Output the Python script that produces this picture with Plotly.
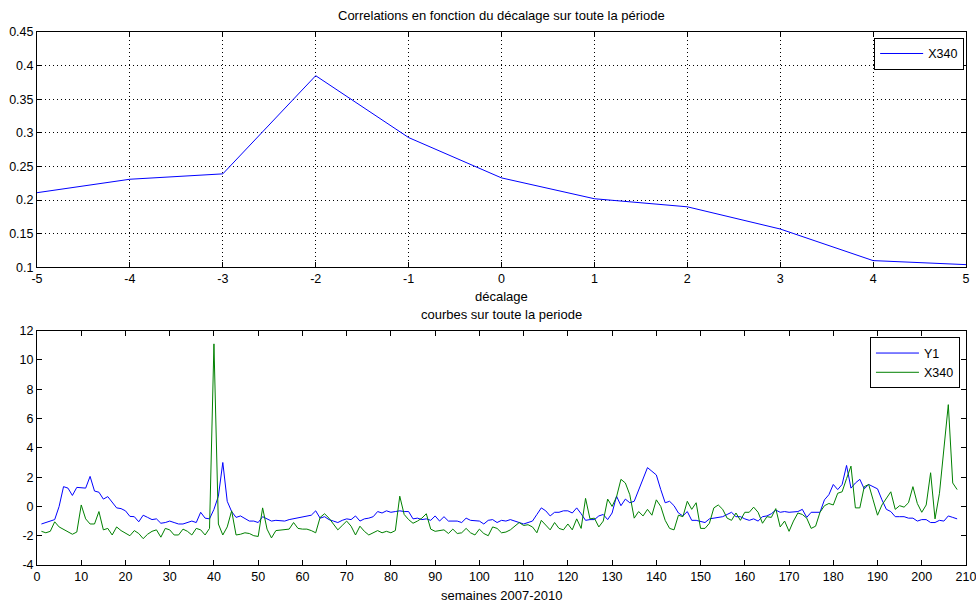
import plotly.graph_objects as go

# ---- data ----
lags = [-5, -4, -3, -2, -1, 0, 1, 2, 3, 4, 5]
corr_x340 = [0.211, 0.231, 0.239, 0.385, 0.293, 0.233, 0.202, 0.190, 0.157, 0.110, 0.104]

weeks = list(range(1, 209))
y1 = [
    -1.2, -1.1, -1.0, -0.9, 0.0, 1.35, 1.25, 0.75, 1.3, 1.3,
    1.25, 2.05, 1.05, 0.97, 0.5, 0.67, 0.27, -0.1, -0.15, -0.3,
    -0.68, -0.7, -1.05, -0.6, -0.75, -0.9, -0.85, -1.15, -1.1, -1.0,
    -1.1, -1.2, -1.2, -1.1, -1.0, -1.1, -0.4, -0.8, -0.85, -0.2,
    0.7, 3.0, 0.35, -0.35, -0.75, -0.65, -0.8, -1.0, -1.0, -1.1,
    -0.7, -0.85, -1.0, -0.95, -1.0, -1.0, -0.9, -0.85, -0.8, -0.7,
    -0.7, -0.6, -0.3, -0.8, -0.7, -0.9, -1.0, -1.1, -0.95, -0.85,
    -0.9, -0.65, -1.0, -0.85, -0.8, -0.7, -0.35, -0.45, -0.3, -0.4,
    -0.35, -0.3, -0.35, -0.35, -0.85, -0.8, -0.9, -0.85, -0.95, -0.65,
    -1.0, -0.7, -1.0, -1.0, -1.0, -1.1, -0.8, -0.95, -1.0, -1.0,
    -1.2, -0.95, -0.9, -1.1, -0.95, -1.0, -0.9, -1.0, -1.1, -1.2,
    -1.1, -1.0, -0.55, -0.1, -0.3, -0.65, -0.4, -0.4, -0.3, -0.3,
    -0.45, -0.1, -0.5, -0.95, -0.9, -0.9, -0.65, -0.55, -0.9, -0.45,
    0.7, 0.05, 0.5, 0.25, 0.35, 1.15, 1.95, 2.65, 2.4, 2.15,
    1.15, 0.25, 0.35, 0.05, -0.45, -0.65, -0.35, -0.95, -0.95, -1.0,
    -1.1, -0.85, -0.8, -0.7, -0.7, -0.55, -0.4, -0.7, -0.7, -0.85,
    -0.95, -0.85, -1.0, -0.7, -0.65, -0.5, -0.25, -0.4, -0.35, -0.4,
    -0.4, -0.35, -0.2, -0.75, -0.4, -0.4, -0.4, 0.45, 0.8, 1.5,
    1.15, 1.5, 2.8, 1.25, 1.6, 1.85, 1.2, 1.5, 1.35, 1.2,
    0.45, -0.2, -0.35, -0.7, -0.7, -0.7, -0.8, -0.8, -1.0, -0.9,
    -0.9, -1.1, -1.1, -0.95, -1.0, -0.65, -0.75, -0.85,
]
x340 = [
    -1.7, -1.8, -1.7, -1.05, -1.4, -1.55, -1.75, -1.9, -1.75, 0.1,
    -0.85, -1.2, -1.2, -0.35, -1.6, -1.5, -1.95, -1.4, -1.65, -1.85,
    -2.0, -1.65, -1.85, -2.2, -1.9, -1.7, -1.6, -2.1, -1.5, -1.6,
    -1.95, -1.95, -1.55, -1.7, -1.95, -1.5, -1.6, -1.95, -1.5, 11.1,
    -1.2, -1.95, -1.4, -0.3, -1.95, -1.9, -1.8, -1.85, -2.0, -2.05,
    -0.1, -1.55, -2.15, -1.65, -1.6, -1.6, -1.55, -1.1, -1.5, -1.55,
    -1.55, -1.65, -1.8, -0.75, -0.5, -0.8, -1.2, -1.6, -1.3, -1.0,
    -1.35, -1.95, -1.35, -1.7, -1.95, -1.8, -1.65, -1.8, -1.7, -1.8,
    -1.65, 0.7, -0.55, -0.9, -1.15, -1.0, -0.8, -0.5, -1.55, -1.7,
    -1.65, -1.6, -1.85, -1.55, -1.85, -1.8, -1.5, -1.8, -1.95, -1.55,
    -1.85, -2.0, -1.4, -1.5, -1.8, -1.75, -1.6, -1.35, -1.1, -1.3,
    -1.25, -1.4, -1.8, -0.95, -1.3, -1.6, -1.1, -1.5, -1.6, -1.2,
    -1.6, -0.85, -1.5, 0.55, -0.85, -0.8, -1.4, -1.0, 0.5, 0.0,
    0.65, 1.85, 1.6, 0.8, -0.8, -0.35, -0.65, -0.2, -0.6, 0.45,
    0.0, -0.95, -1.5, -1.6, -0.6, -0.7, 0.35, -0.2, 0.25, -1.5,
    -1.5, -1.15, -0.1, 0.1, -0.2, -0.8, -0.95, -0.45, -0.95, -0.4,
    -0.4, -0.05, -0.4, -1.15, -0.7, -0.75, -0.15, -1.4, -1.0, -1.7,
    -1.0, -0.45, -0.55, -0.8, -1.5, -1.35, -0.4, 0.05, 0.2, 0.1,
    0.9, 1.0, 1.9, 2.75, -0.1, -0.1, 1.35, 1.5, 0.45, -0.6,
    0.1, 0.55, 1.0, -0.2, 0.05, -0.05, 0.25, 1.35, 0.2, -0.4,
    0.1, 2.3, -0.85, 0.9, 3.85, 6.95, 1.6, 1.15,
]

top_xticks = [-5, -4, -3, -2, -1, 0, 1, 2, 3, 4, 5]
top_yticks = [0.1, 0.15, 0.2, 0.25, 0.3, 0.35, 0.4, 0.45]
bot_xticks = list(range(0, 211, 10))
bot_yticks = list(range(-4, 13, 2))

FONT = "Liberation Sans"
TICK_FS = 12.5
TXT_FS = 13
fig = go.Figure()

fig.add_trace(go.Scatter(x=lags, y=corr_x340, mode="lines", name="X340",
                         line=dict(color="#0000ff", width=1),
                         xaxis="x", yaxis="y", legend="legend"))
fig.add_trace(go.Scatter(x=weeks, y=y1, mode="lines", name="Y1",
                         line=dict(color="#0000ff", width=1),
                         xaxis="x2", yaxis="y2", legend="legend2"))
fig.add_trace(go.Scatter(x=weeks, y=x340, mode="lines", name="X340",
                         line=dict(color="#008000", width=1),
                         xaxis="x2", yaxis="y2", legend="legend2"))

axis_common = dict(showline=True, linecolor="black", linewidth=1, mirror="ticks",
                   ticks="inside", ticklen=5, tickcolor="black", zeroline=False,
                   automargin=False, ticklabeloverflow="allow",
                   tickfont=dict(family=FONT, size=TICK_FS, color="black"))
grid_style = dict(showgrid=True, gridcolor="black", griddash="1px,3px", gridwidth=1)
legend_style = dict(xanchor="right", yanchor="top", bgcolor="white",
                    bordercolor="black", borderwidth=1, itemwidth=43,
                    font=dict(family=FONT, size=TICK_FS, color="black"))

fig.update_layout(
    width=976, height=608,
    margin=dict(l=37, r=10, t=32, b=43, autoexpand=False),
    paper_bgcolor="white", plot_bgcolor="white",
    font=dict(family=FONT, size=TICK_FS, color="black"),
    xaxis=dict(domain=[0, 1], anchor="y", range=[-5, 5],
               tickvals=top_xticks, ticktext=[str(v) for v in top_xticks],
               **grid_style, **axis_common),
    yaxis=dict(domain=[0.5585, 1], anchor="x", range=[0.1, 0.45],
               tickvals=top_yticks, ticktext=[("%g" % v) for v in top_yticks],
               **grid_style, **axis_common),
    xaxis2=dict(domain=[0, 1], anchor="y2", range=[0, 210],
                tickvals=bot_xticks, ticktext=[str(v) for v in bot_xticks],
                showgrid=False, **axis_common),
    yaxis2=dict(domain=[0, 0.4396], anchor="x2", range=[-4, 12],
                tickvals=bot_yticks, ticktext=[str(v) for v in bot_yticks],
                showgrid=False, **axis_common),
    legend=dict(x=0.998, y=0.989, **legend_style),
    legend2=dict(x=0.9935, y=0.427, **legend_style),
    showlegend=True,
    annotations=[
        dict(text="Correlations en fonction du décalage sur toute la période",
             xref="paper", yref="paper", x=0.5, y=1.0306, xanchor="center", yanchor="middle",
             showarrow=False, font=dict(family=FONT, size=TXT_FS, color="black")),
        dict(text="décalage", xref="paper", yref="paper", x=0.5, y=0.5034,
             xanchor="center", yanchor="middle", showarrow=False,
             font=dict(family=FONT, size=TXT_FS, color="black")),
        dict(text="courbes sur toute la periode", xref="paper", yref="paper", x=0.5, y=0.4695,
             xanchor="center", yanchor="middle", showarrow=False,
             font=dict(family=FONT, size=TXT_FS, color="black")),
        dict(text="semaines 2007-2010", xref="paper", yref="paper", x=0.5, y=-0.0563,
             xanchor="center", yanchor="middle", showarrow=False,
             font=dict(family=FONT, size=TXT_FS, color="black")),
    ],
)

fig.write_html("out.html", config={"displayModeBar": False},
               post_script="document.body.style.margin='0';")
